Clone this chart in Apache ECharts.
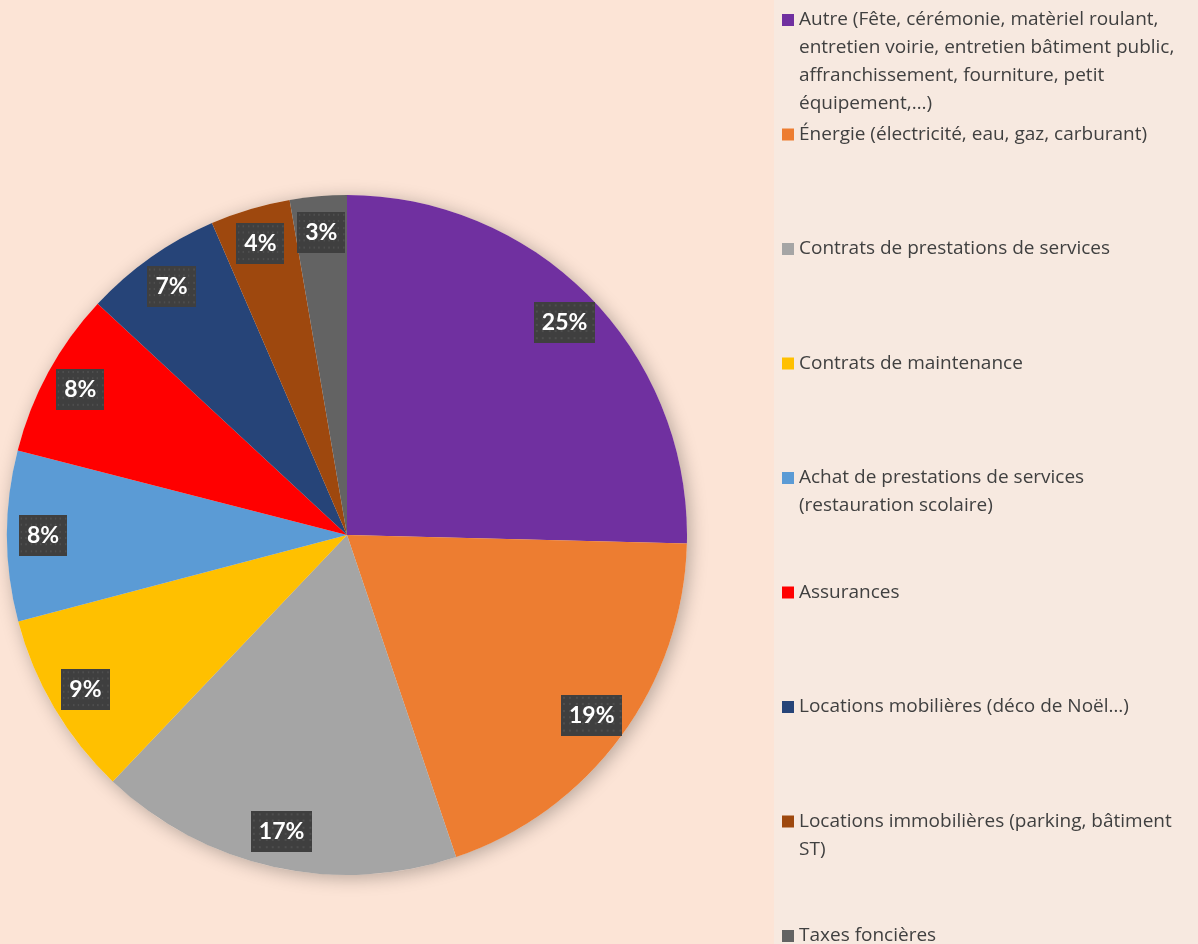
<!DOCTYPE html>
<html>
<head>
<meta charset="utf-8">
<script src="https://cdn.jsdelivr.net/npm/echarts@6/dist/echarts.min.js"></script>
<style>
  html, body { margin: 0; padding: 0; background: #FCE4D6; }
  #pie { width: 1198px; height: 944px; }
</style>
</head>
<body>
<div id="pie"></div>
<script>
  const categories = [
    'Autre (Fête, cérémonie, matèriel roulant, entretien voirie, entretien bâtiment public, affranchissement, fourniture, petit équipement,…)',
    'Énergie (électricité, eau, gaz, carburant)',
    'Contrats de prestations de services',
    'Contrats de maintenance',
    'Achat de prestations de services (restauration scolaire)',
    'Assurances',
    'Locations mobilières (déco de Noël…)',
    'Locations immobilières (parking, bâtiment ST)',
    'Taxes foncières'
  ];
  // legend text as wrapped in the original
  const legendLabels = [
    'Autre (Fête, cérémonie, matèriel roulant,\nentretien voirie, entretien bâtiment public,\naffranchissement, fourniture, petit\néquipement,…)',
    'Énergie (électricité, eau, gaz, carburant)',
    'Contrats de prestations de services',
    'Contrats de maintenance',
    'Achat de prestations de services\n(restauration scolaire)',
    'Assurances',
    'Locations mobilières (déco de Noël…)',
    'Locations immobilières (parking, bâtiment\nST)',
    'Taxes foncières'
  ];
  const shares = [25.4, 19.4, 17.3, 8.8, 8.1, 7.9, 6.6, 3.8, 2.7];
  const colors = ['#7030A0', '#ED7D31', '#A5A5A5', '#FFC000', '#5B9BD5', '#FF0000', '#264478', '#9E480E', '#636363'];

  // dotted dark texture for the data labels
  const makePattern = () => {
    const c = document.createElement('canvas');
    c.width = 62; c.height = 40;
    const g = c.getContext('2d');
    g.fillStyle = '#3F3F3F';
    g.fillRect(0, 0, 62, 40);
    g.fillStyle = '#4E4E4E';
    for (let y = 2; y < 40; y += 6.3) {
      for (let x = 2; x < 62; x += 6.3) {
        g.fillRect(Math.round(x), Math.round(y), 2, 2);
      }
    }
    return c;
  };

  const center = [347, 535];
  const radius = 340;
  const lineH = 28;
  const firstY = 20;
  const step = 114.5;

  const data = categories.map((name, i) => ({
    name: name,
    value: shares[i],
    itemStyle: { color: colors[i] }
  }));

  const legends = categories.map((name, i) => {
    const n = legendLabels[i].split('\n').length;
    return {
      orient: 'vertical',
      left: 782,
      top: firstY + i * step - (2 * n - 1) * lineH / 2,
      padding: 0,
      itemGap: 0,
      icon: 'rect',
      itemWidth: 12,
      itemHeight: 12,
      selectedMode: false,
      data: [name],
      formatter: function (nm) {
        const lbl = legendLabels[categories.indexOf(nm)];
        const k = lbl.split('\n').length;
        // blank lines above so the first line sits beside the marker
        return '\n'.repeat(k - 1) + lbl;
      },
      textStyle: {
        fontFamily: 'Open Sans',
        fontSize: 19,
        lineHeight: lineH,
        color: '#404040'
      }
    };
  });

  let myChart;

  const getOption = () => {
    return {
      backgroundColor: '#FCE4D6',
      animation: false,
      graphic: [{
        type: 'rect',
        left: 774,
        top: 0,
        z: -10,
        shape: { width: 424, height: 944 },
        style: { fill: '#F7E9E0' }
      }],
      legend: legends,
      series: [
        {
          type: 'pie',
          center: center,
          radius: radius,
          startAngle: 90,
          clockwise: true,
          silent: true,
          label: { show: false },
          labelLine: { show: false },
          itemStyle: { borderWidth: 0 },
          data: data
        },
        {
          // soft shadow around the disc
          type: 'pie',
          name: 'shadow',
          center: center,
          radius: radius,
          silent: true,
          z: 1,
          label: { show: false },
          itemStyle: {
            color: '#FCE4D6',
            shadowBlur: 18,
            shadowColor: 'rgba(0,0,0,0.28)',
            shadowOffsetX: 3,
            shadowOffsetY: 3
          },
          data: [{ name: 'shadow', value: 1 }]
        },
        {
          // transparent ring only used to place the labels
          type: 'pie',
          center: center,
          radius: [radius * 0.77, radius],
          startAngle: 90,
          clockwise: true,
          silent: true,
          z: 3,
          itemStyle: { color: 'rgba(0,0,0,0)' },
          labelLine: { show: false },
          label: {
            show: true,
            position: 'inside',
            formatter: function (p) {
              return Math.round(p.percent) + '%';
            },
            color: '#FFFFFF',
            fontFamily: 'Lato',
            fontWeight: 'bold',
            fontSize: 23,
            lineHeight: 24,
            padding: [10, 8, 7, 8],
            backgroundColor: { image: makePattern() },
            shadowBlur: 6,
            shadowColor: 'rgba(0,0,0,0.45)',
            shadowOffsetX: 4,
            shadowOffsetY: 4
          },
          data: data.map(d => ({ name: d.name, value: d.value }))
        }
      ]
    };
  };

  const draw = () => {
    myChart = echarts.init(document.getElementById('pie'));
    myChart.setOption(getOption());
  };

  draw();
</script>
</body>
</html>
